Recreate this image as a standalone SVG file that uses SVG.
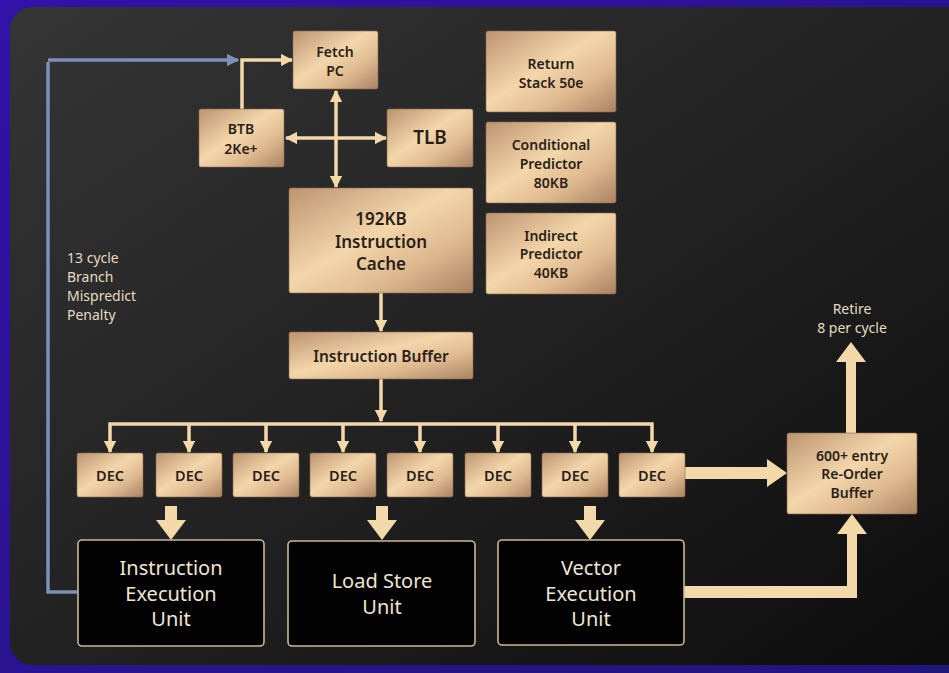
<svg xmlns="http://www.w3.org/2000/svg" width="949" height="673" viewBox="0 0 949 673">
<defs>
<linearGradient id="bg" x1="0" y1="0" x2="1" y2="1">
<stop offset="0" stop-color="#353535"/>
<stop offset="0.5" stop-color="#222222"/>
<stop offset="1" stop-color="#0c0c0c"/>
</linearGradient>
<linearGradient id="outer" x1="0" y1="0" x2="1" y2="1">
<stop offset="0" stop-color="#3212a8"/>
<stop offset="1" stop-color="#22157a"/>
</linearGradient>
<linearGradient id="gold" x1="0" y1="0" x2="1" y2="1">
<stop offset="0" stop-color="#bc9470"/>
<stop offset="0.45" stop-color="#f4d6ab"/>
<stop offset="0.7" stop-color="#dfba90"/>
<stop offset="1" stop-color="#aa8262"/>
</linearGradient>
<marker id="ah" viewBox="0 0 10 10" refX="9" refY="5" markerWidth="3.5" markerHeight="3.5" orient="auto-start-reverse" markerUnits="strokeWidth">
<path d="M0,0 L10,5 L0,10 z" fill="#f3d9aa"/>
</marker>
<marker id="ahb" viewBox="0 0 10 10" refX="9" refY="5" markerWidth="3.6" markerHeight="3.6" orient="auto" markerUnits="strokeWidth">
<path d="M0,0 L10,5 L0,10 z" fill="#7d90b8"/>
</marker>
</defs>
<style>
.g{fill:url(#gold);stroke:#8a6a4c;stroke-width:0.6}
.k{fill:#020202;stroke:#c9b896;stroke-width:1.6}
.t{font-family:"Noto Sans",Lato,sans-serif;fill:#2a1f16;text-anchor:middle;dominant-baseline:central;font-weight:600}
.w{font-family:"Noto Sans",Lato,sans-serif;fill:#efe6d2;text-anchor:middle;dominant-baseline:central;font-size:20px}
.l{font-family:"Noto Sans",Lato,sans-serif;fill:#e6dbc2;font-size:14px;dominant-baseline:central}
.c{fill:none;stroke:#f3d9aa;stroke-width:3.5}
.f{fill:#f3d9aa}
</style>
<rect x="0" y="0" width="949" height="673" fill="url(#outer)"/>
<rect x="10" y="7" width="960" height="658" rx="22" fill="url(#bg)"/>

<g id="connectors">
<polyline points="48,62 48,592 77,592" fill="none" stroke="#7d90b8" stroke-width="3.5"/>
<line x1="48" y1="60" x2="238" y2="60" stroke="#7d90b8" stroke-width="3.5" marker-end="url(#ahb)"/>
<polyline class="c" points="242,109 242,60 292,60" marker-end="url(#ah)"/>
<line class="c" x1="336" y1="91" x2="336" y2="187" marker-start="url(#ah)" marker-end="url(#ah)"/>
<line class="c" x1="286" y1="138" x2="386" y2="138" marker-start="url(#ah)" marker-end="url(#ah)"/>
<line class="c" x1="381" y1="293" x2="381" y2="331" marker-end="url(#ah)"/>
<line class="c" x1="381" y1="379" x2="381" y2="421" marker-end="url(#ah)"/>
<polyline class="c" points="110,452 110,424 652,424 652,452" marker-start="url(#ah)" marker-end="url(#ah)"/>
<line class="c" x1="189" y1="424" x2="189" y2="452" marker-end="url(#ah)"/>
<line class="c" x1="266" y1="424" x2="266" y2="452" marker-end="url(#ah)"/>
<line class="c" x1="343" y1="424" x2="343" y2="452" marker-end="url(#ah)"/>
<line class="c" x1="420" y1="424" x2="420" y2="452" marker-end="url(#ah)"/>
<line class="c" x1="498" y1="424" x2="498" y2="452" marker-end="url(#ah)"/>
<line class="c" x1="575" y1="424" x2="575" y2="452" marker-end="url(#ah)"/>
<path class="f" d="M165,506 h12 v14 h9 l-15,20 l-15,-20 h9 z"/>
<path class="f" d="M376,506 h12 v14 h9 l-15,20 l-15,-20 h9 z"/>
<path class="f" d="M584,506 h12 v14 h9 l-15,20 l-15,-20 h9 z"/>
<path class="f" d="M684,467 h83 v-8 l20,14 l-20,14 v-8 h-83 z"/>
<path class="f" d="M684,586 h163 v-52 h-10 l15,-20 l15,20 h-10 v64 h-183 z"/>
<path class="f" d="M846,433 v-71 h-10 l15,-20 l15,20 h-10 v71 z"/>
</g>

<g id="fetch-pc"><rect class="g" x="293" y="31" width="85" height="58" rx="2"/>
<text class="t" x="335" y="51" font-size="14">Fetch</text><text class="t" x="335" y="70" font-size="14">PC</text></g>
<g id="btb"><rect class="g" x="199" y="109" width="85" height="58" rx="2"/>
<text class="t" x="241" y="128" font-size="14">BTB</text><text class="t" x="241" y="148" font-size="14">2Ke+</text></g>
<g id="tlb"><rect class="g" x="387" y="109" width="86" height="58" rx="2"/>
<text class="t" x="430" y="137" font-size="19">TLB</text></g>
<g id="return-stack"><rect class="g" x="486" y="31" width="130" height="81" rx="2"/>
<text class="t" x="551" y="63" font-size="14">Return</text><text class="t" x="551" y="82" font-size="14">Stack 50e</text></g>
<g id="conditional-predictor"><rect class="g" x="486" y="122" width="130" height="81" rx="2"/>
<text class="t" x="551" y="144" font-size="14">Conditional</text><text class="t" x="551" y="163" font-size="14">Predictor</text><text class="t" x="551" y="182" font-size="14">80KB</text></g>
<g id="indirect-predictor"><rect class="g" x="486" y="213" width="130" height="81" rx="2"/>
<text class="t" x="551" y="235" font-size="14">Indirect</text><text class="t" x="551" y="253" font-size="14">Predictor</text><text class="t" x="551" y="272" font-size="14">40KB</text></g>
<g id="instruction-cache"><rect class="g" x="289" y="188" width="184" height="105" rx="2"/>
<text class="t" x="381" y="218" font-size="17">192KB</text><text class="t" x="381" y="241" font-size="17">Instruction</text><text class="t" x="381" y="263" font-size="17">Cache</text></g>
<g id="instruction-buffer"><rect class="g" x="289" y="332" width="184" height="47" rx="2"/>
<text class="t" x="381" y="356" font-size="15.5">Instruction Buffer</text></g>

<g id="dec1"><rect class="g" x="77" y="453" width="66" height="44" rx="2"/><text class="t" x="110" y="475" font-size="14.5">DEC</text></g>
<g id="dec2"><rect class="g" x="156" y="453" width="66" height="44" rx="2"/><text class="t" x="189" y="475" font-size="14.5">DEC</text></g>
<g id="dec3"><rect class="g" x="233" y="453" width="66" height="44" rx="2"/><text class="t" x="266" y="475" font-size="14.5">DEC</text></g>
<g id="dec4"><rect class="g" x="310" y="453" width="66" height="44" rx="2"/><text class="t" x="343" y="475" font-size="14.5">DEC</text></g>
<g id="dec5"><rect class="g" x="387" y="453" width="66" height="44" rx="2"/><text class="t" x="420" y="475" font-size="14.5">DEC</text></g>
<g id="dec6"><rect class="g" x="465" y="453" width="66" height="44" rx="2"/><text class="t" x="498" y="475" font-size="14.5">DEC</text></g>
<g id="dec7"><rect class="g" x="542" y="453" width="66" height="44" rx="2"/><text class="t" x="575" y="475" font-size="14.5">DEC</text></g>
<g id="dec8"><rect class="g" x="619" y="453" width="66" height="44" rx="2"/><text class="t" x="652" y="475" font-size="14.5">DEC</text></g>

<g id="rob"><rect class="g" x="787" y="433" width="130" height="81" rx="2"/>
<text class="t" x="852" y="455" font-size="14">600+ entry</text><text class="t" x="852" y="473" font-size="14">Re-Order</text><text class="t" x="852" y="492" font-size="14">Buffer</text></g>

<g id="instruction-execution-unit"><rect class="k" x="78" y="540" width="186" height="106" rx="4"/>
<text class="w" x="171" y="567">Instruction</text><text class="w" x="171" y="593">Execution</text><text class="w" x="171" y="618">Unit</text></g>
<g id="load-store-unit"><rect class="k" x="288" y="541" width="187" height="105" rx="4"/>
<text class="w" x="382" y="580">Load Store</text><text class="w" x="382" y="606">Unit</text></g>
<g id="vector-execution-unit"><rect class="k" x="498" y="540" width="186" height="105" rx="4"/>
<text class="w" x="591" y="567">Vector</text><text class="w" x="591" y="593">Execution</text><text class="w" x="591" y="618">Unit</text></g>

<g id="labels">
<text class="l" x="67" y="257">13 cycle</text>
<text class="l" x="67" y="276">Branch</text>
<text class="l" x="67" y="295">Mispredict</text>
<text class="l" x="67" y="314">Penalty</text>
<text class="l" x="852" y="308" text-anchor="middle">Retire</text>
<text class="l" x="852" y="327" text-anchor="middle">8 per cycle</text>
</g>
</svg>
